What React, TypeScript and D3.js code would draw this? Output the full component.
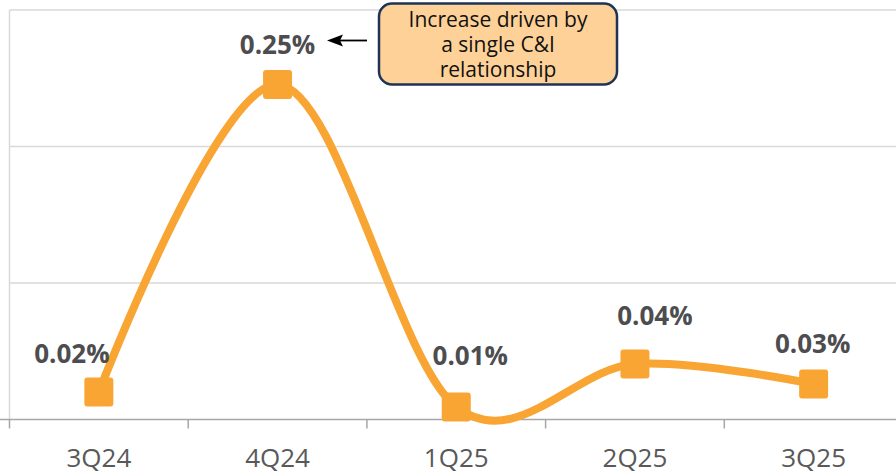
import React from "react";
import * as d3 from "d3";

const categories = ["3Q24", "4Q24", "1Q25", "2Q25", "3Q25"];
const values = [0.0201, 0.2454, 0.0092, 0.0407, 0.026];
const valueLabels = ["0.02%", "0.25%", "0.01%", "0.04%", "0.03%"];
const yTicks = [0, 0.1, 0.2, 0.3];
const annotationLines = ["Increase driven by", "a single C&I", "relationship"];
// label offsets relative to marker (px)
const labelDx = [-27, 0, 14, 20, -1];
const labelDy = [-29, -31, -42, -39, -31];

const W = 896;
const H = 476;
const left = 9.5;
const bandW = 178.7;
const x = d3
  .scaleBand<string>()
  .domain(categories)
  .range([left, left + bandW * categories.length])
  .paddingInner(0)
  .paddingOuter(0);
const y = d3.scaleLinear().domain([0, 0.3]).range([419.5, 10]);

const ORANGE = "#F9A533";
const FONT = "'Open Sans', 'Noto Sans', sans-serif";

export default function App() {
  const cx = (c: string) => (x(c) as number) + x.bandwidth() / 2;
  const pts: [number, number][] = categories.map((c, i) => [cx(c), y(values[i])]);
  const line = d3.line().curve(d3.curveCardinal.tension(0))(pts) as string;
  const boundaries = categories.map((c) => x(c) as number);

  return (
    <svg
      width={W}
      height={H}
      style={{ position: "absolute", left: 0, top: 0, background: "#fff" }}
      fontFamily={FONT}
    >
      {/* gridlines */}
      {yTicks.slice(1).map((t) => (
        <line key={t} x1={left} x2={W} y1={y(t)} y2={y(t)} stroke="#d9d9d9" strokeWidth={1.5} />
      ))}
      <line x1={left} x2={left} y1={y(0.3)} y2={y(0)} stroke="#d9d9d9" strokeWidth={1.5} />
      {/* x axis */}
      <line x1={0} x2={W} y1={y(0)} y2={y(0)} stroke="#a6a6a6" strokeWidth={1.5} />
      {boundaries.map((b, i) => (
        <line key={i} x1={b} x2={b} y1={y(0)} y2={y(0) + 9} stroke="#a6a6a6" strokeWidth={1.5} />
      ))}
      {categories.map((c) => (
        <text key={c} x={cx(c)} y={467} textAnchor="middle" fontSize={26} fill="#595959">
          {c}
        </text>
      ))}
      {/* line */}
      <path d={line} fill="none" stroke={ORANGE} strokeWidth={8} strokeLinecap="round" />
      {pts.map(([px, py], i) => (
        <rect key={i} x={px - 14.5} y={py - 14.5} width={29} height={29} rx={3} fill={ORANGE} />
      ))}
      {pts.map(([px, py], i) => (
        <text
          key={"l" + i}
          x={px + labelDx[i]}
          y={py + labelDy[i]}
          textAnchor="middle"
          fontSize={26}
          fontWeight={700}
          fill="#4d4d50"
        >
          {valueLabels[i]}
        </text>
      ))}
      {/* annotation */}
      <line x1={367} x2={340} y1={40.5} y2={40.5} stroke="#000" strokeWidth={1.8} />
      <path d="M327,40.5 L343,34.5 L340,40.5 L343,46.5 Z" fill="#000" />
      <rect x={379} y={3.5} width={238} height={81} rx={13} fill="#FDD197" stroke="#1f3357" strokeWidth={2.5} />
      <text x={498} y={27} textAnchor="middle" fontSize={21} fill="#111">
        {annotationLines.map((t, i) => (
          <tspan key={t} x={498} dy={i === 0 ? 0 : 25}>
            {t}
          </tspan>
        ))}
      </text>
    </svg>
  );
}
